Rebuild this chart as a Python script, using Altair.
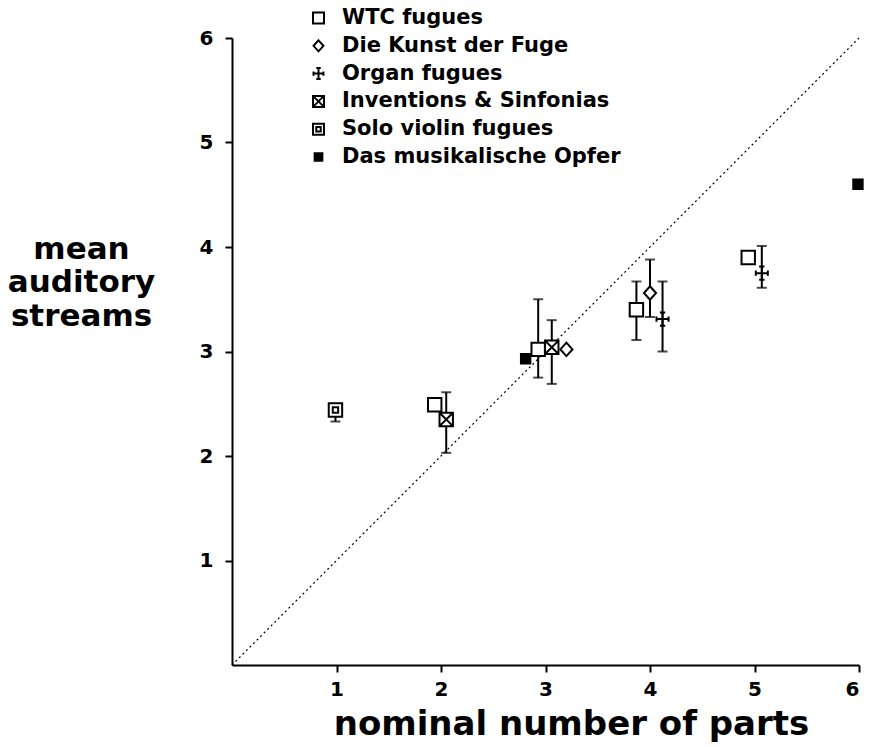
import altair as alt
import pandas as pd

# ---- data ----
series_names = ["WTC fugues", "Die Kunst der Fuge", "Organ fugues",
                "Inventions & Sinfonias", "Solo violin fugues", "Das musikalische Opfer"]

pt_series = ["WTC fugues", "WTC fugues", "WTC fugues", "WTC fugues",
             "Die Kunst der Fuge", "Die Kunst der Fuge",
             "Organ fugues", "Organ fugues",
             "Inventions & Sinfonias", "Inventions & Sinfonias",
             "Solo violin fugues",
             "Das musikalische Opfer", "Das musikalische Opfer"]
pt_x = [1.94, 2.93, 3.87, 4.94,
        3.20, 4.00,
        4.12, 5.07,
        2.05, 3.06,
        0.99,
        2.81, 5.99]
pt_y = [2.49, 3.02, 3.40, 3.90,
        3.02, 3.56,
        3.31, 3.75,
        2.35, 3.04,
        2.44,
        2.93, 4.60]

eb_x = [2.93, 3.87, 4.00, 4.12, 5.07, 2.05, 3.06, 0.99]
eb_lo = [2.75, 3.11, 3.33, 3.00, 3.61, 2.03, 2.69, 2.33]
eb_hi = [3.50, 3.67, 3.88, 3.67, 4.01, 2.61, 3.30, 2.50]

diag_x = [0, 6]
diag_y = [0, 6]

axis_ticks = [1, 2, 3, 4, 5, 6]

# ---- styling ----
FONT = "DejaVu Sans"
shape_paths = [
    "M-1,-1H1V1H-1Z",                                   # open square
    "M0,-1L0.9,0L0,1L-0.9,0Z",                          # diamond
    "M-0.9,0H0.9M0,-1V1M-0.9,-0.4V0.4M0.9,-0.4V0.4M-0.4,-1H0.4M-0.4,1H0.4",  # cross
    "M-1,-1H1V1H-1Z M-1,-1L1,1 M1,-1L-1,1",             # checkered square
    "M-1,-1H1V1H-1Z M-0.4,-0.4H0.4V0.4H-0.4Z",          # square in square
    "M-0.7,-0.7H0.7V0.7H-0.7Z M-0.7,-0.35H0.7 M-0.7,0H0.7 M-0.7,0.35H0.7",  # filled square
]
fill_colors = ["white", "white", "black", "white", "white", "black"]

points = pd.DataFrame({"series": pt_series, "x": pt_x, "y": pt_y})
bars = pd.DataFrame({"x": eb_x, "lo": eb_lo, "hi": eb_hi})
caps = pd.DataFrame({"x": eb_x + eb_x, "y": eb_lo + eb_hi})
diag = pd.DataFrame({"x": diag_x, "y": diag_y})

xscale = alt.Scale(domain=[0, 6], nice=False, zero=True)
yscale = alt.Scale(domain=[0, 6], nice=False, zero=True)

x_axis = alt.Axis(values=axis_ticks, format="d", title="nominal number of parts",
                  titleFontSize=34, titleX=339, titleY=69, labelPadding=7,
                  titleBaseline="alphabetic", titleAlign="center")
y_axis = alt.Axis(values=axis_ticks, format="d", title=["mean", "auditory", "streams"],
                  titleAngle=0, titleAlign="center", titleBaseline="alphabetic",
                  labelPadding=12,
                  titleX=-151, titleY=220, titleFontSize=31, titleLineHeight=33.5)

diag_line = alt.Chart(diag).mark_line(color="black", strokeWidth=1.2, strokeDash=[2, 3]).encode(
    x=alt.X("x:Q", scale=xscale, axis=x_axis),
    y=alt.Y("y:Q", scale=yscale, axis=y_axis),
)

bar_rules = alt.Chart(bars).mark_rule(color="black", strokeWidth=2).encode(
    x=alt.X("x:Q", scale=xscale),
    y=alt.Y("lo:Q", scale=yscale),
    y2="hi:Q",
)

bar_caps = alt.Chart(caps).mark_tick(color="black", orient="horizontal",
                                     size=10, thickness=2).encode(
    x=alt.X("x:Q", scale=xscale),
    y=alt.Y("y:Q", scale=yscale),
)

markers = alt.Chart(points).mark_point(
    color="black", stroke="black", strokeWidth=2, opacity=1, filled=False, size=180
).encode(
    x=alt.X("x:Q", scale=xscale),
    y=alt.Y("y:Q", scale=yscale),
    shape=alt.Shape("series:N", scale=alt.Scale(domain=series_names, range=shape_paths),
                    legend=alt.Legend(title=None)),
    fill=alt.Fill("series:N", scale=alt.Scale(domain=series_names, range=fill_colors),
                  legend=None),
)

chart = alt.layer(diag_line, bar_rules, bar_caps, markers).properties(
    width=627, height=627,
    autosize=alt.AutoSizeParams(type="none"),
    padding={"left": 232, "top": 38, "right": 12, "bottom": 82},
).configure_view(stroke=None).configure_axis(
    grid=False, domainColor="black", domainWidth=2, tickColor="black",
    tickWidth=2, tickSize=7, labelFont=FONT, labelFontWeight="bold",
    labelFontSize=20, labelColor="black", titleFont=FONT,
    titleFontWeight="bold", titleColor="black",
).configure_legend(
    orient="none", legendX=76, legendY=-30.5, padding=0,
    labelFont=FONT, labelFontWeight="bold", labelFontSize=21, labelColor="black",
    labelLimit=0, symbolSize=121, symbolStrokeColor="black", symbolStrokeWidth=2,
    symbolFillColor="white", labelOffset=13, rowPadding=5.8, symbolOpacity=1,
)

chart.save("out.html", embed_options={"renderer": "svg", "actions": False})
